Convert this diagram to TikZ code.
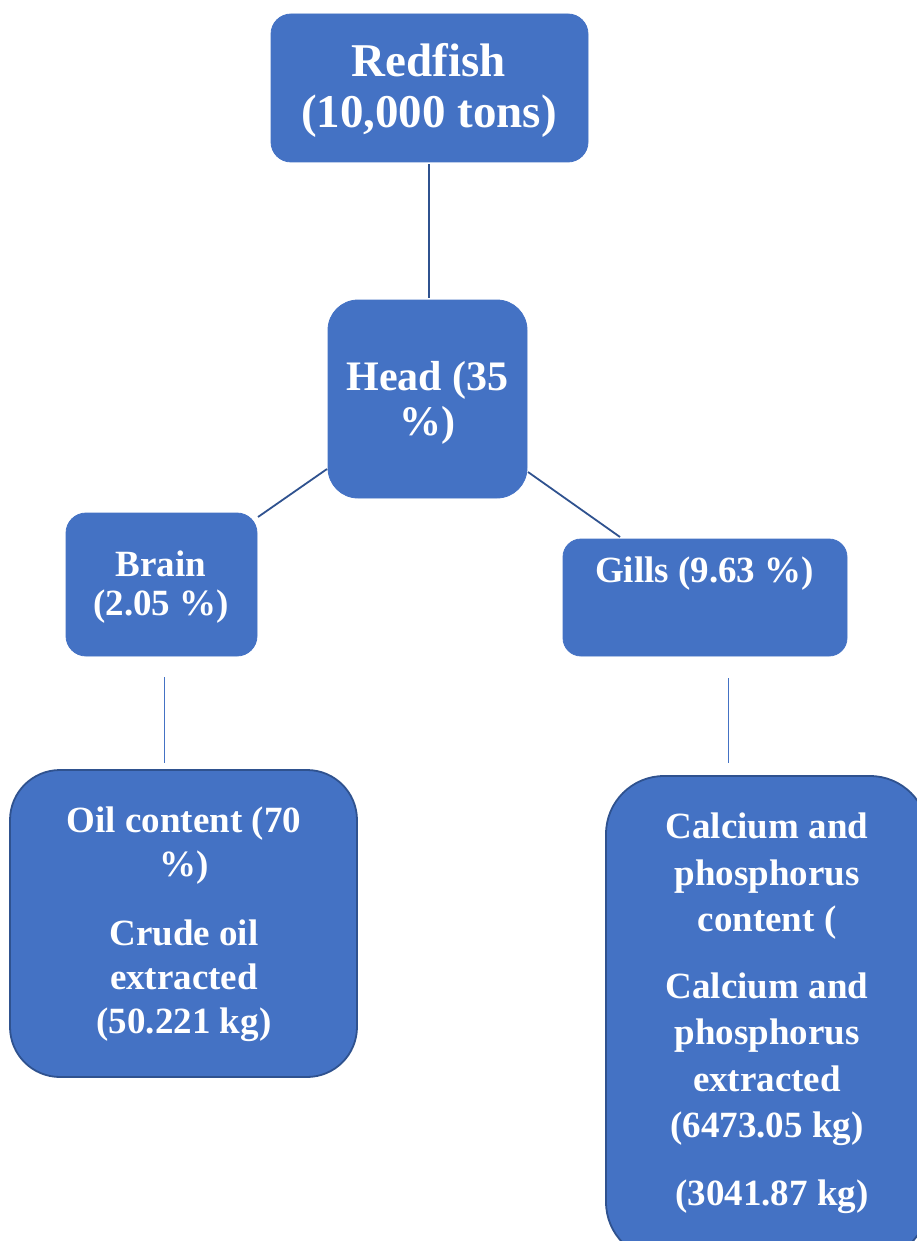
\documentclass[tikz,border=0pt]{standalone}
\usepackage{fontspec}
\setmainfont{Liberation Serif}
\definecolor{boxblue}{HTML}{4472C4}
\definecolor{darkblue}{HTML}{2F528F}
\begin{document}
\begin{tikzpicture}[x=1pt,y=-1pt,
  box/.style={rectangle, fill=boxblue, draw=boxblue, line width=0.8pt, inner sep=0pt},
  bigbox/.style={box, draw=darkblue, line width=1.8pt},
  txt/.style={text=white, align=center, anchor=base, inner sep=0pt},
  conn/.style={draw=darkblue, line width=1.8pt},
  thinconn/.style={draw=boxblue, line width=1pt}]
\useasboundingbox (0,0) rectangle (916,1241);

% boxes
\node[box, rounded corners=20pt, minimum width=317pt, minimum height=148pt] (redfish) at (429.5,88) {};
\node[box, rounded corners=30pt, minimum width=199pt, minimum height=198pt] (head) at (427.5,399) {};
\node[box, rounded corners=20pt, minimum width=191pt, minimum height=143pt] (brain) at (161.5,584.5) {};
\node[box, rounded corners=18pt, minimum width=284pt, minimum height=117pt] (gills) at (705,597.5) {};
\node[bigbox, rounded corners=50pt, minimum width=347pt, minimum height=307pt] (oil) at (183.5,923.5) {};
\node[bigbox, rounded corners=58pt, minimum width=322pt, minimum height=484pt] (calc) at (767,1018) {};

% texts (anchor base = last line's baseline)
\node[txt, font={\bfseries\fontsize{47}{51}\selectfont}] (redfishT) at (429,128) {Redfish\\(10,000 tons)};
\node[txt, font={\bfseries\fontsize{42}{45}\selectfont}] (headT) at (427.5,435) {Head (35\\\%)};
\node[txt, font={\bfseries\fontsize{37}{38.5}\selectfont}] (brainT) at (161,615) {Brain\\(2.05 \%)};
\node[txt, font={\bfseries\fontsize{37}{40}\selectfont}] (gillsT) at (704.5,582) {Gills (9.63 \%)};
\node[txt, font={\bfseries\fontsize{37}{44}\selectfont}] (oilT) at (184,1033)
  {Oil content (70\\\%)\\[25pt]Crude oil\\extracted\\(50.221 kg)};
\node[txt, font={\bfseries\fontsize{37}{46.5}\selectfont}] (calcT) at (767,1205)
  {Calcium and\\phosphorus\\content (\\[20pt]Calcium and\\phosphorus\\extracted\\(6473.05 kg)\\[21pt]\hspace{10pt}(3041.87 kg)};

% connectors
\draw[conn, shorten <=2pt, shorten >=2pt] ([xshift=-0.5pt]redfish.south) -- ([xshift=-0.5pt]redfish.south |- head.north);
\coordinate (hbA) at (327,469);
\coordinate (hbB) at (258,517);
\draw[conn] (hbA) -- (hbB);
\coordinate (hgA) at (528,472);
\coordinate (hgB) at (620,537);
\draw[conn] (hgA) -- (hgB);
\coordinate (boA) at (164,677);
\coordinate (boB) at (164,763);
\draw[thinconn] (boA) -- (boB);
\coordinate (gcA) at (728,678);
\coordinate (gcB) at (728,763);
\draw[thinconn] (gcA) -- (gcB);
\end{tikzpicture}
\end{document}
